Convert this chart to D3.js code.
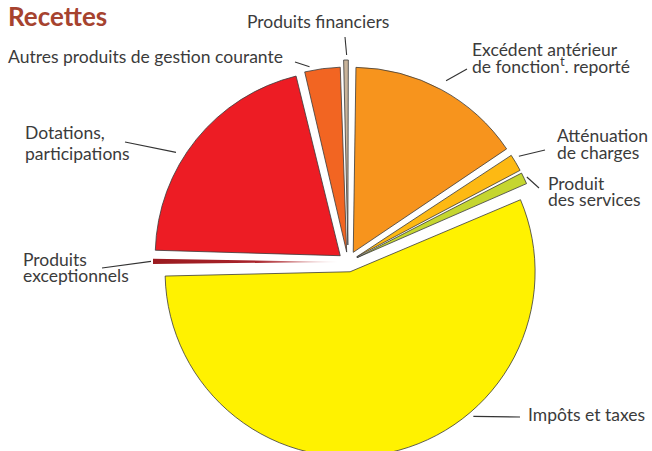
<!DOCTYPE html>
<html>
<head>
<meta charset="utf-8">
<script src="https://cdn.jsdelivr.net/npm/d3@7.9.0/dist/d3.min.js"></script>
<style>
  body { margin: 0; background: #fff; }
  svg { display: block; }
  .lbl { font-family: Lato, "Open Sans", sans-serif; font-size: 17.5px; fill: #3b3b3b; }
</style>
</head>
<body>
<div id="chart"></div>
<script>
// categories in clockwise order, starting at 12 o'clock
const categories = [
  'Excédent antérieur de fonct. reporté',
  'Atténuation de charges',
  'Produit des services',
  'Impôts et taxes',
  'Produits exceptionnels',
  'Dotations, participations',
  'Autres produits de gestion courante',
  'Produits financiers',
];
// share of receipts (%)
const shares = [15.6, 1.7, 1.2, 56.5, 0.65, 21.0, 3.3, 0.6];

const colors = ['#f7941d', '#fdb913', '#c5d630', '#fff200', 'url(#grad-exc)', '#ed1c24', '#f26522', '#c9b49a'];

// label text lines, position and leader anchor for each category
const labelLayout = [
  { lines: ['Excédent antérieur', 'de fonction|t|. reporté'], x: 472, y: [56, 73], t: 0.5, gap: 10, to: [467, 69] },
  { lines: ['Atténuation', 'de charges'], x: 557, y: [142, 159], t: 0.3, gap: 6, to: [545, 150] },
  { lines: ['Produit', 'des services'], x: 548, y: [190, 206], t: 0.5, gap: 3, to: [539, 188] },
  { lines: ['Impôts et taxes'], x: 528, y: [421], t: 0.36, gap: 5, to: [520, 417] },
  { lines: ['Produits', 'exceptionnels'], x: 23, y: [266, 282], t: 0.5, gap: 2, to: [102, 268] },
  { lines: ['Dotations,', 'participations'], x: 25, y: [139, 160], t: 0.41, gap: 9, to: [125, 142] },
  { lines: ['Autres produits de gestion courante'], x: 8, y: [63], t: 0.18, gap: 4, to: [295, 62] },
  { lines: ['Produits financiers'], x: 247, y: [28], t: 0.6, gap: 5, to: [345, 37] },
];
const explode = [11, 10, 10, 10, 10, 10, 10, 17];

const width = 652;
const height = 451;
const cx = 348;
const cy = 262;
const radius = 185;
const start = (0.5 * Math.PI) / 180;

const svg = d3.select('#chart').append('svg').attr('width', width).attr('height', height);

const grad = svg.append('defs').append('linearGradient').attr('id', 'grad-exc');
grad.append('stop').attr('offset', '0%').attr('stop-color', '#9b1b20');
grad.append('stop').attr('offset', '55%').attr('stop-color', '#a8232a');
grad.append('stop').attr('offset', '100%').attr('stop-color', '#f6dcdc');

svg.append('text')
  .attr('x', 8)
  .attr('y', 26)
  .style('font-family', 'Lato, sans-serif')
  .style('font-weight', 'bold')
  .style('font-size', '26px')
  .style('fill', '#a6432f')
  .text('Recettes');

const pie = d3.pie().sort(null).value((d) => d).startAngle(start).endAngle(start + 2 * Math.PI);
const arcs = pie(shares);

const arc = d3.arc().innerRadius(0).outerRadius(radius).padAngle(0.012);

function shift(d, i) {
  const mid = (d.startAngle + d.endAngle) / 2;
  return [explode[i] * Math.sin(mid), -explode[i] * Math.cos(mid)];
}

const slices = svg.append('g').attr('transform', `translate(${cx},${cy})`);

slices.selectAll('path')
  .data(arcs)
  .join('path')
  .attr('transform', (d, i) => `translate(${shift(d, i)})`)
  .attr('d', arc)
  .attr('fill', (d, i) => colors[i])
  .attr('stroke', (d, i) => (i === 4 ? 'none' : '#3a3a3a'))
  .attr('stroke-width', 0.8)
  .attr('stroke-linejoin', 'round');

// leader lines from slice edge to label
function anchor(d, i) {
  const lay = labelLayout[i];
  const a = d.startAngle + lay.t * (d.endAngle - d.startAngle);
  const [sx, sy] = shift(d, i);
  const rr = radius + lay.gap;
  return [cx + sx + rr * Math.sin(a), cy + sy - rr * Math.cos(a)];
}

svg.append('g')
  .selectAll('line')
  .data(arcs)
  .join('line')
  .attr('x1', (d, i) => anchor(d, i)[0])
  .attr('y1', (d, i) => anchor(d, i)[1])
  .attr('x2', (d, i) => labelLayout[i].to[0])
  .attr('y2', (d, i) => labelLayout[i].to[1])
  .attr('stroke', '#333')
  .attr('stroke-width', 1.1);

// one text element per label, one tspan per line
const labels = svg.append('g');
labelLayout.forEach((lay) => {
  const txt = labels.append('text').attr('class', 'lbl').attr('x', lay.x).attr('y', lay.y[0]);
  lay.lines.forEach((line, k) => {
    const row = txt.append('tspan').attr('x', lay.x).attr('y', lay.y[k]);
    if (line.includes('|')) {
      const [a, sup, b] = line.split('|');
      row.append('tspan').text(a);
      row.append('tspan').attr('dy', -7).style('font-size', '13px').text(sup);
      row.append('tspan').attr('dy', 7).text(b);
    } else {
      row.text(line);
    }
  });
});
</script>
</body>
</html>
